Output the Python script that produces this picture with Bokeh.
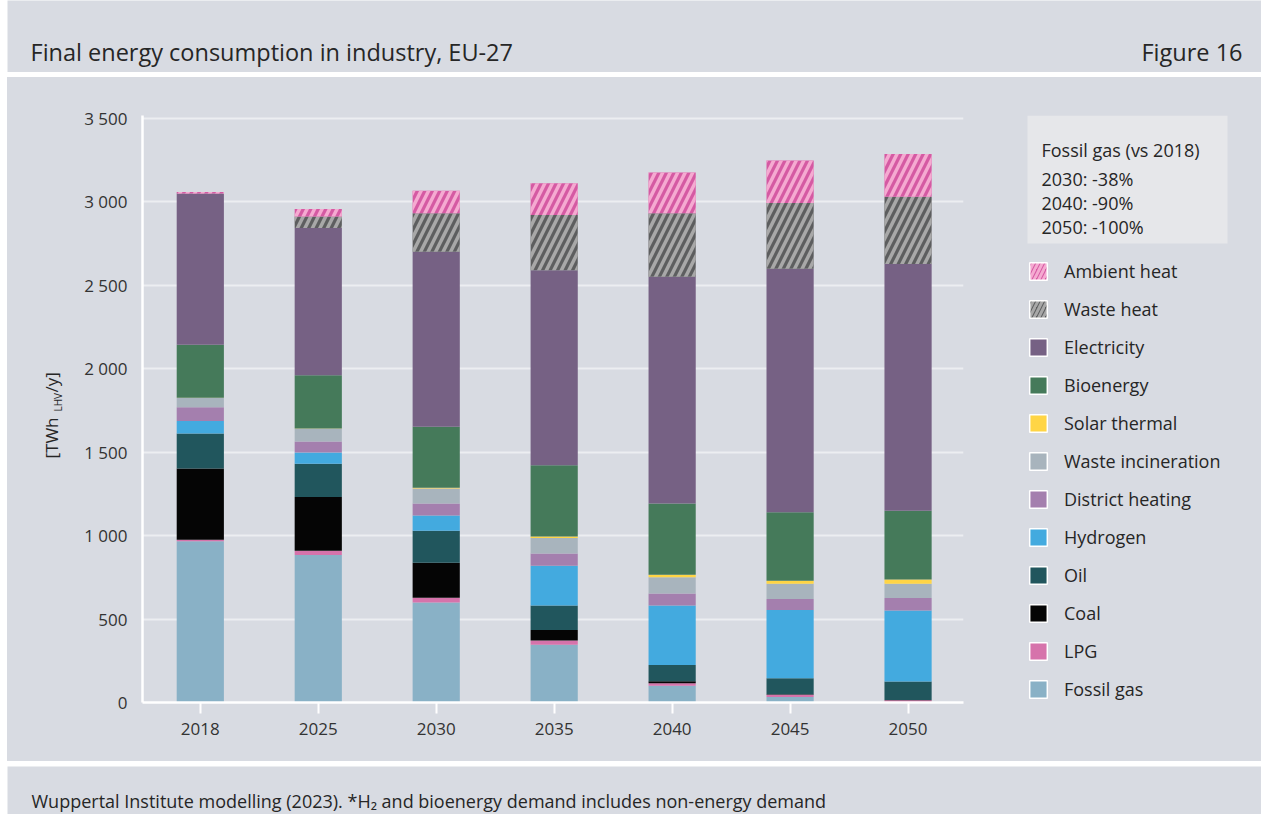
from math import pi
import numpy as np
from bokeh.plotting import figure
from bokeh.models import Range1d, FixedTicker, Label, Legend, LegendItem, Spacer
from bokeh.layouts import column, row
from bokeh.embed import file_html
from bokeh.resources import INLINE

# ---------------- data ----------------
years = ["2018", "2025", "2030", "2035", "2040", "2045", "2050"]
fossil_gas = [967, 884, 600, 346, 100, 33, 3]
lpg = [9, 26, 28, 26, 16, 14, 10]
coal = [427, 322, 209, 62, 12, 2, 2]
oil = [209, 199, 192, 147, 97, 96, 111]
hydrogen = [75, 67, 92, 239, 356, 410, 426]
district_heating = [83, 66, 71, 73, 73, 66, 74]
waste_incineration = [55, 76, 90, 93, 97, 90, 85]
solar_thermal = [2, 2, 5, 9, 15, 19, 26]
bioenergy = [317, 320, 365, 427, 426, 410, 412]
electricity = [906, 882, 1050, 1168, 1360, 1460, 1479]
waste_heat = [0, 69, 230, 332, 380, 393, 403]
ambient_heat = [9, 45, 135, 190, 244, 256, 256]

y_ticks = [0, 500, 1000, 1500, 2000, 2500, 3000, 3500]
y_tick_labels = ["0", "500", "1 000", "1 500", "2 000", "2 500", "3 000", "3 500"]

note_lines = ["Fossil gas (vs 2018)", "2030: -38%", "2040: -90%", "2050: -100%"]

# (name, values, fill, hatch, hatch colour)
series = [
    ("Fossil gas", fossil_gas, "#89b1c6", None, None),
    ("LPG", lpg, "#d673ab", None, None),
    ("Coal", coal, "#050505", None, None),
    ("Oil", oil, "#21565d", None, None),
    ("Hydrogen", hydrogen, "#43aadf", None, None),
    ("District heating", district_heating, "#a47fae", None, None),
    ("Waste incineration", waste_incineration, "#a8b4bd", None, None),
    ("Solar thermal", solar_thermal, "#ffd545", None, None),
    ("Bioenergy", bioenergy, "#457a5a", None, None),
    ("Electricity", electricity, "#766184", None, None),
    ("Waste heat", waste_heat, "#5d5e5f", "/", "#a8a8a8"),
    ("Ambient heat", ambient_heat, "#d55aa3", "/", "#f5aad1"),
]

BG = "#d8dbe2"
FONT = "Open Sans"
TXT = "#262626"

# frame borders shared by the three figures of the chart row (so frames align)
MB_TOP, MB_BOTTOM = 38, 59
FRAME_TOP, FRAME_BOTTOM = 115, 702  # page pixel rows of the frame


def panel(w, h, xr, yr, top=0, bottom=0):
    f = figure(width=w, height=h, x_range=xr, y_range=yr, output_backend="svg",
               toolbar_location=None, x_axis_location=None, y_axis_location=None,
               min_border_left=0, min_border_right=0, min_border_top=top,
               min_border_bottom=bottom, background_fill_color=BG,
               border_fill_color=BG, outline_line_color=None)
    f.xgrid.visible = False
    f.ygrid.visible = False
    return f


# ---------------- title panel ----------------
title_fig = panel(1254, 72, Range1d(7, 1261), Range1d(72, 0))
title_fig.add_layout(Label(x=30, y=51, text="Final energy consumption in industry, EU-27",
                           text_font=FONT, text_font_size="23.5px", text_color=TXT,
                           text_baseline="alphabetic"))
title_fig.add_layout(Label(x=1242, y=51, text="Figure 16", text_font=FONT,
                           text_font_size="23.5px", text_color=TXT, text_align="right",
                           text_baseline="alphabetic"))

# ---------------- y label panel ----------------
ylab_fig = panel(61, 684, Range1d(7, 68), Range1d(FRAME_BOTTOM, FRAME_TOP), MB_TOP, MB_BOTTOM)
ylab_fig.add_layout(Label(x=51, y=458, text="[TWh", angle=pi / 2, text_font=FONT,
                          text_font_size="17px", text_color=TXT, text_baseline="alphabetic"))
ylab_fig.add_layout(Label(x=57, y=411, text="LHV", angle=pi / 2, text_font=FONT,
                          text_font_size="10px", text_color=TXT, text_baseline="alphabetic"))
ylab_fig.add_layout(Label(x=51, y=392, text="/y]", angle=pi / 2, text_font=FONT,
                          text_font_size="17px", text_color=TXT, text_baseline="alphabetic"))

# ---------------- chart ----------------
xpos = list(range(len(years)))
cf = figure(width=932, height=684, x_range=Range1d(-0.49, 6.47), y_range=Range1d(0, 3518),
            output_backend="svg", toolbar_location=None,
            min_border_left=74, min_border_right=37, min_border_top=MB_TOP,
            min_border_bottom=MB_BOTTOM,
            background_fill_color=BG, border_fill_color=BG, outline_line_color=None)

bottom = np.zeros(len(years))
for name, vals, color, hatch, hcol in series:
    top = bottom + np.array(vals, dtype=float)
    kw = dict(fill_color=color, line_color=None)
    if hatch:
        kw.update(hatch_pattern=hatch, hatch_color=hcol, hatch_scale=15, hatch_weight=3.5)
    cf.vbar(x=xpos, bottom=bottom.tolist(), top=top.tolist(), width=0.4, **kw)
    bottom = top

cf.xgrid.visible = False
cf.ygrid.grid_line_color = "#eceef1"
cf.ygrid.grid_line_width = 2
cf.ygrid.ticker = FixedTicker(ticks=y_ticks)

cf.yaxis.ticker = FixedTicker(ticks=y_ticks)
cf.yaxis.major_label_overrides = {t: l for t, l in zip(y_ticks, y_tick_labels)}
cf.yaxis.major_tick_out = 0
cf.yaxis.major_tick_in = 0
cf.yaxis.minor_tick_out = 0
cf.yaxis.minor_tick_in = 0
cf.yaxis.major_label_standoff = 15
cf.yaxis.axis_line_color = "white"
cf.yaxis.axis_line_width = 2.5

cf.xaxis.ticker = FixedTicker(ticks=xpos)
cf.xaxis.major_label_overrides = {i: y for i, y in zip(xpos, years)}
cf.xaxis.major_tick_out = 11
cf.xaxis.major_tick_in = 0
cf.xaxis.minor_tick_out = 0
cf.xaxis.minor_tick_in = 0
cf.xaxis.major_tick_line_color = "white"
cf.xaxis.major_tick_line_width = 2
cf.xaxis.major_label_standoff = 9
cf.xaxis.axis_line_color = "white"
cf.xaxis.axis_line_width = 2.5

for ax in (cf.xaxis, cf.yaxis):
    ax.major_label_text_font = FONT
    ax.major_label_text_font_size = "17px"
    ax.major_label_text_color = "#333333"

# ---------------- legend panel ----------------
lf = panel(261, 684, Range1d(1000, 1261), Range1d(FRAME_BOTTOM, FRAME_TOP), MB_TOP, MB_BOTTOM)
lf.quad(left=[1027], right=[1227], top=[115], bottom=[243], fill_color="#e6e7ea", line_color=None)
note_y = [149, 178, 202, 226]
for txt, yy in zip(note_lines, note_y):
    lf.add_layout(Label(x=1041, y=yy, text=txt, text_font=FONT, text_font_size="18px",
                        text_color=TXT, text_baseline="alphabetic"))

items = []
for name, vals, color, hatch, hcol in reversed(series):
    kw = dict(fill_color=color, line_color="white", line_width=1.5)
    if hatch:
        kw.update(hatch_pattern=hatch, hatch_color=hcol, hatch_scale=9, hatch_weight=3)
    # swatch-only renderer: its single point lies outside the visible range
    r = lf.rect(x=[0], y=[0], width=1, height=1, **kw)
    items.append(LegendItem(label=name, renderers=[r]))

leg = Legend(items=items, location=(27, 1), glyph_width=22, glyph_height=22,
             label_standoff=15, spacing=14, padding=0, margin=0, label_height=22,
             background_fill_alpha=0, border_line_color=None,
             label_text_font=FONT, label_text_font_size="18px", label_text_color=TXT)
lf.add_layout(leg)

# ---------------- footer ----------------
foot = panel(1254, 48, Range1d(7, 1261), Range1d(814, 766))
foot.add_layout(Label(x=31, y=800,
                      text="Wuppertal Institute modelling (2023). *H\u2082 and bioenergy demand includes non-energy demand",
                      text_font=FONT, text_font_size="18px", text_color=TXT,
                      text_baseline="alphabetic"))

chart_row = row(ylab_fig, cf, lf, styles={"background-color": BG})
content = column(title_fig, Spacer(width=1254, height=5), chart_row,
                 Spacer(width=1254, height=5), foot)
layout = row(Spacer(width=7, height=814), content)

open("out.html", "w").write(file_html(layout, INLINE))
